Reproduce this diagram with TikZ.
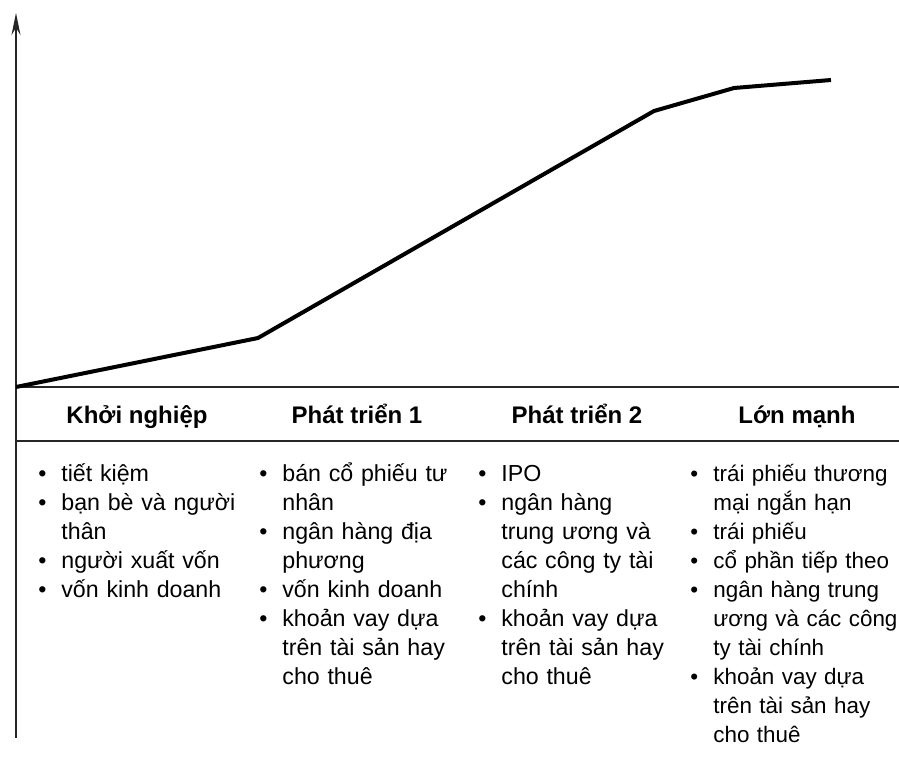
\documentclass[tikz,border=0pt]{standalone}
\usepackage{fontspec}
\setmainfont{Liberation Sans}
\usetikzlibrary{arrows.meta}
\newcommand{\itm}{\makebox[11.5pt][l]{\textbullet}}
\newcommand{\cont}{\hspace*{11.5pt}}
\begin{document}
\begin{tikzpicture}[x=0.5pt,y=-0.5pt]
        \tikzstyle{axis}=[draw=black!85, line width=0.9pt]
        \tikzstyle{growth}=[draw=black, line width=2pt, line join=round]
        \tikzstyle{stage}=[font=\fontsize{12}{14.5}\selectfont\bfseries, anchor=base, inner sep=0pt]
        \tikzstyle{items}=[font=\fontsize{11.6}{14.5}\selectfont, anchor=base west, align=left, text width=125pt, inner sep=0pt]
        \useasboundingbox (0,0) rectangle (899,766);

        % axes and table rules
        \coordinate (o) at (16,387);
        \coordinate (ytop) at (16,13);
        \coordinate (ybot) at (16,738);
        \coordinate (xend) at (899,387);
        \coordinate (hl) at (16,441);
        \coordinate (hr) at (899,441);
        \path[axis, -{Stealth[length=11pt,width=4.5pt]}] (ybot) -- (ytop);
        \path[axis] (o) -- (xend);
        \path[axis] (hl) -- (hr);

        % growth curve
        \coordinate (k1) at (258,338);
        \coordinate (k2) at (654,111);
        \coordinate (k3) at (734,88);
        \coordinate (k4) at (831,80);
        \path[growth] (o) -- (k1) -- (k2) -- (k3) -- (k4);

        % stages
        \node [stage] (st1) at (137,423) {Khởi nghiệp};
        \node [stage] (st2) at (357,423) {Phát triển 1};
        \node [stage] (st3) at (577,423) {Phát triển 2};
        \node [stage] (st4) at (797,423) {Lớn mạnh};

        \node [items] (src1) at (38,481) {\itm tiết kiệm\\
          \itm bạn bè và người\\ \cont thân\\
          \itm người xuất vốn\\
          \itm vốn kinh doanh};
        \node [items] (src2) at (259,481) {\itm bán cổ phiếu tư\\ \cont nhân\\
          \itm ngân hàng địa\\ \cont phương\\
          \itm vốn kinh doanh\\
          \itm khoản vay dựa\\ \cont trên tài sản hay\\ \cont cho thuê};
        \node [items] (src3) at (478,481) {\itm IPO\\
          \itm ngân hàng\\ \cont trung ương và\\ \cont các công ty tài\\ \cont chính\\
          \itm khoản vay dựa\\ \cont trên tài sản hay\\ \cont cho thuê};
        \node [items, font=\fontsize{11.2}{14.5}\selectfont] (src4) at (690,481) {\itm trái phiếu thương\\ \cont mại ngắn hạn\\
          \itm trái phiếu\\
          \itm cổ phần tiếp theo\\
          \itm ngân hàng trung\\ \cont ương và các công\\ \cont ty tài chính\\
          \itm khoản vay dựa\\ \cont trên tài sản hay\\ \cont cho thuê};
\end{tikzpicture}
\end{document}
